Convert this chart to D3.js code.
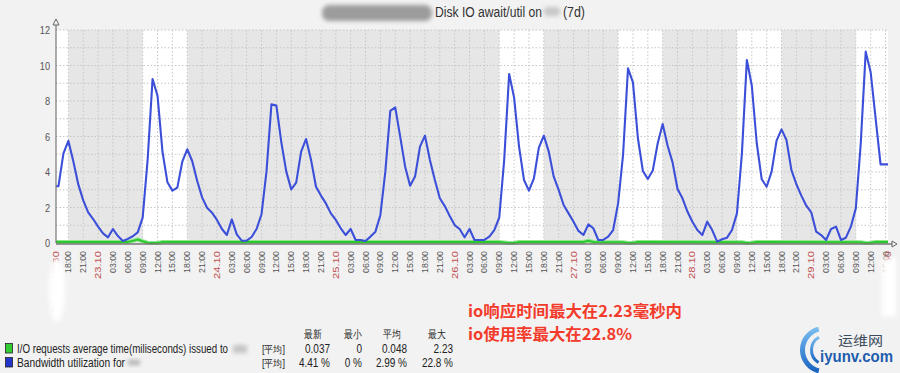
<!DOCTYPE html>
<html>
<head>
<meta charset="utf-8">
<script src="https://cdn.jsdelivr.net/npm/d3@7"></script>
<style>
  body { margin: 0; background: #f2f2f2; }
  svg { display: block; font-family: "Liberation Sans", Arial, sans-serif; }
</style>
</head>
<body>
<svg id="chart" width="900" height="373"></svg>
<script>
// bandwidth utilization, hourly averages (first value = 22.10 15:00)
const util22 = [3.2, 3.2, 5.05, 5.75, 4.6, 3.3, 2.4, 1.73, 1.35];
const util23 = [0.92, 0.54, 0.32, 0.79, 0.39, 0.11, 0.23, 0.38, 0.6, 1.43, 4.68, 9.24,
                8.3, 5.15, 3.42, 2.95, 3.12, 4.58, 5.28, 4.62, 3.51, 2.57, 1.99, 1.71];
const util24 = [1.3, 0.79, 0.45, 1.33, 0.49, 0.13, 0.13, 0.34, 0.79, 1.62, 4.02, 7.81,
                7.74, 5.67, 4.02, 3.02, 3.4, 5.15, 5.86, 4.68, 3.17, 2.67, 2.23, 1.67];
const util25 = [1.3, 0.83, 0.45, 0.79, 0.17, 0.17, 0.11, 0.36, 0.64, 1.58, 4.02, 7.44,
                7.64, 5.99, 4.3, 3.23, 3.74, 5.43, 6.05, 4.68, 3.55, 2.52, 2.08, 1.52];
const util26 = [1.01, 0.79, 0.32, 0.79, 0.17, 0.17, 0.17, 0.36, 0.73, 1.43, 4.68, 9.52,
                8.19, 5.43, 3.55, 2.95, 3.64, 5.37, 6.05, 5.15, 3.74, 2.99, 2.14, 1.67];
const util27 = [1.2, 0.68, 0.45, 1.05, 0.83, 0.17, 0.17, 0.36, 0.73, 2.23, 4.96, 9.84,
                9.05, 5.9, 4.06, 3.61, 4.08, 5.62, 6.7, 5.48, 4.54, 3.04, 2.52, 1.77];
const util28 = [1.2, 0.73, 0.45, 1.2, 0.73, 0.08, 0.21, 0.3, 0.73, 1.67, 5.05, 10.31,
                8.86, 5.62, 3.59, 3.17, 4.02, 5.77, 6.4, 5.8, 4.11, 3.31, 2.67, 2.1];
const util29 = [1.73, 0.64, 0.45, 0.17, 0.79, 0.92, 0.17, 0.3, 0.92, 1.95, 5.62, 10.78,
                9.62, 7.02, 4.43, 4.43, 4.43];

// I/O await, read at the points where the line changes
const awaitPoints = [
  ["2015-10-22 15:00", 0.06], ["2015-10-23 06:00", 0.06], ["2015-10-23 07:00", 0.12],
  ["2015-10-23 08:00", 0.2], ["2015-10-23 09:00", 0.1], ["2015-10-23 10:00", 0.02],
  ["2015-10-23 11:00", 0], ["2015-10-23 12:00", 0], ["2015-10-23 13:00", 0.05],
  ["2015-10-26 09:00", 0.06], ["2015-10-26 10:00", 0.03], ["2015-10-26 11:00", 0],
  ["2015-10-26 12:00", 0], ["2015-10-26 13:00", 0.06], ["2015-10-27 02:00", 0.06],
  ["2015-10-27 03:00", 0.12], ["2015-10-27 04:00", 0.06], ["2015-10-27 10:00", 0.04],
  ["2015-10-27 11:00", 0], ["2015-10-27 12:00", 0], ["2015-10-27 13:00", 0.06],
  ["2015-10-28 10:00", 0.04], ["2015-10-28 11:00", 0], ["2015-10-28 12:00", 0.01],
  ["2015-10-28 13:00", 0.06], ["2015-10-29 10:00", 0.04], ["2015-10-29 11:00", 0],
  ["2015-10-29 12:00", 0.02], ["2015-10-29 13:00", 0.06], ["2015-10-29 16:00", 0.06]
];

const workDays = ["2015-10-22", "2015-10-23", "2015-10-26", "2015-10-27", "2015-10-28", "2015-10-29"];
const yTicks = [0, 2, 4, 6, 8, 10, 12];

const legendHeads = ["最新", "最小", "平均", "最大"];
const awaitStats = ["0.037", "0", "0.048", "2.23"];
const utilStats = ["4.41 %", "0 %", "2.99 %", "22.8 %"];
const notes = ["io响应时间最大在2.23毫秒内", "io使用率最大在22.8%"];

const parse = d3.utcParse("%Y-%m-%d %H:%M");
const start = parse("2015-10-22 15:30");
const end = parse("2015-10-29 15:30");
const t0 = parse("2015-10-22 15:00");

const svg = d3.select("#chart");
const sx = 0.8; // the screenshot text is squeezed horizontally

const x = d3.scaleUtc().domain([start, end]).range([56, 888]);
const y = d3.scaleLinear().domain([0, 12]).range([243, 30]);

const utilData = [util22, util23, util24, util25, util26, util27, util28, util29]
  .flat()
  .map(function(v, i) { return { t: d3.utcHour.offset(t0, i), v: v }; });
const awaitData = awaitPoints.map(function(d) { return { t: parse(d[0]), v: d[1] }; });

const defs = svg.append("defs");
defs.append("filter").attr("id", "blur").attr("x", "-50%").attr("y", "-50%")
  .attr("width", "200%").attr("height", "200%")
  .append("feGaussianBlur").attr("stdDeviation", 2);
defs.append("clipPath").attr("id", "plot")
  .append("rect").attr("x", 56).attr("y", 20).attr("width", 832).attr("height", 226);
const grad = defs.append("linearGradient").attr("id", "logo")
  .attr("x1", 0).attr("y1", 0).attr("x2", 0).attr("y2", 1);
grad.append("stop").attr("offset", 0).attr("stop-color", "#7cc0f2");
grad.append("stop").attr("offset", 1).attr("stop-color", "#1560c0");

// title
svg.append("rect").attr("x", 322).attr("y", 5).attr("width", 110).attr("height", 16)
  .attr("rx", 7).attr("fill", "#9c9c9c").attr("filter", "url(#blur)");
svg.append("text").attr("x", 435).attr("y", 17).attr("font-size", 14)
  .attr("fill", "#333").attr("textLength", 107).attr("lengthAdjust", "spacingAndGlyphs")
  .text("Disk IO await/util on");
svg.append("rect").attr("x", 544).attr("y", 7).attr("width", 16).attr("height", 9)
  .attr("rx", 3).attr("fill", "#c8c8c8").attr("filter", "url(#blur)");
svg.append("text").attr("x", 563).attr("y", 17).attr("font-size", 14)
  .attr("fill", "#333").attr("textLength", 22).attr("lengthAdjust", "spacingAndGlyphs")
  .text("(7d)");

// background: non-working time grey, working hours white
svg.append("rect").attr("x", 56).attr("y", 30).attr("width", 832).attr("height", 213)
  .attr("fill", "#e6e6e6");
svg.selectAll(".work")
  .data(workDays)
  .enter().append("rect")
  .attr("class", "work")
  .attr("x", function(d) { return x(d3.max([start, parse(d + " 09:00")])); })
  .attr("width", function(d) {
    return x(d3.min([end, parse(d + " 18:00")])) - x(d3.max([start, parse(d + " 09:00")]));
  })
  .attr("y", 30)
  .attr("height", 213)
  .attr("fill", "#ffffff");

// grid
const ticks3h = d3.utcHour.every(3).range(start, end);
svg.selectAll(".vgrid")
  .data(ticks3h)
  .enter().append("line")
  .attr("class", "vgrid")
  .attr("x1", function(d) { return x(d); })
  .attr("x2", function(d) { return x(d); })
  .attr("y1", 30).attr("y2", 243)
  .attr("stroke", "#c6c6c6").attr("stroke-dasharray", "1.5,2");
svg.selectAll(".hgrid")
  .data(d3.range(1, 13))
  .enter().append("line")
  .attr("class", "hgrid")
  .attr("x1", 56).attr("x2", 888)
  .attr("y1", function(d) { return y(d); })
  .attr("y2", function(d) { return y(d); })
  .attr("stroke", "#c6c6c6").attr("stroke-dasharray", "1.5,2");

// series
const line = d3.line()
  .x(function(d) { return x(d.t); })
  .y(function(d) { return y(d.v); });
const plot = svg.append("g").attr("clip-path", "url(#plot)");
plot.append("path").datum(awaitData)
  .attr("d", line).attr("fill", "none")
  .attr("stroke", "#8ee88e").attr("stroke-width", 4);
plot.append("path").datum(awaitData)
  .attr("d", line).attr("fill", "none")
  .attr("stroke", "#2ec82e").attr("stroke-width", 2);
plot.append("path").datum(utilData)
  .attr("d", line).attr("fill", "none")
  .attr("stroke", "#3c4fd8").attr("stroke-width", 2.1)
  .attr("stroke-linejoin", "round");

// axes
svg.append("line").attr("x1", 56).attr("x2", 56).attr("y1", 243).attr("y2", 21)
  .attr("stroke", "#777").attr("stroke-width", 1.2);
svg.append("path").attr("d", "M53,25L56,19L59,25Z").attr("fill", "#f2f2f2").attr("stroke", "#666");
svg.append("line").attr("x1", 56).attr("x2", 894).attr("y1", 244).attr("y2", 244)
  .attr("stroke", "#777").attr("stroke-width", 1.5);
svg.append("path").attr("d", "M892,241L897,244L892,247Z").attr("fill", "#f2f2f2").attr("stroke", "#666");

svg.selectAll(".ylab")
  .data(yTicks)
  .enter().append("text")
  .attr("class", "ylab")
  .attr("transform", function(d) { return "translate(50," + (y(d) + 4) + ") scale(" + sx + ",1)"; })
  .attr("text-anchor", "end")
  .attr("font-size", 11.5)
  .attr("fill", "#555")
  .text(function(d) { return d; });

const fmtTime = d3.utcFormat("%H:%M");
const fmtDay = d3.utcFormat("%d.%m");
const fmtFull = d3.utcFormat("%d.%m %H:%M");
const midnight = function(d) { return d.getUTCHours() === 0; };

svg.selectAll(".xlab")
  .data(ticks3h)
  .enter().append("text")
  .attr("class", "xlab")
  .attr("transform", function(d) { return "translate(" + (x(d) + 3) + ",251) rotate(-90)"; })
  .attr("text-anchor", "end")
  .attr("font-size", 9)
  .attr("textLength", function(d) { return midnight(d) ? 28 : 22; })
  .attr("lengthAdjust", "spacingAndGlyphs")
  .attr("fill", function(d) { return midnight(d) ? "#c05050" : "#555"; })
  .text(function(d) { return midnight(d) ? fmtDay(d) : fmtTime(d); });

svg.selectAll(".xedge")
  .data([start, end])
  .enter().append("text")
  .attr("class", "xedge")
  .attr("transform", function(d) { return "translate(" + (x(d) + 3) + ",251) rotate(-90)"; })
  .attr("text-anchor", "end")
  .attr("font-size", 9)
  .attr("textLength", 62)
  .attr("lengthAdjust", "spacingAndGlyphs")
  .attr("fill", "#c05050")
  .text(function(d) { return fmtFull(d); });

// white patches over the edge labels
svg.append("ellipse").attr("cx", 57).attr("cy", 290).attr("rx", 8).attr("ry", 32)
  .attr("fill", "#fff").attr("filter", "url(#blur)");
svg.append("rect").attr("x", 882).attr("y", 258).attr("width", 14).attr("height", 58)
  .attr("fill", "#fff").attr("filter", "url(#blur)");

// legend
const legend = svg.append("g").attr("font-size", 12).attr("fill", "#222");
legend.append("rect").attr("x", 5.5).attr("y", 343.5).attr("width", 7).attr("height", 9.5)
  .attr("fill", "#33cc33").attr("stroke", "#222").attr("stroke-width", 0.8);
legend.append("rect").attr("x", 5.5).attr("y", 357.5).attr("width", 7).attr("height", 9.5)
  .attr("fill", "#2236cc").attr("stroke", "#222").attr("stroke-width", 0.8);
legend.append("text").attr("x", 17).attr("y", 352.5)
  .attr("textLength", 211).attr("lengthAdjust", "spacingAndGlyphs")
  .text("I/O requests average time(miliseconds) issued to");
legend.append("rect").attr("x", 233).attr("y", 345).attr("width", 14).attr("height", 8)
  .attr("fill", "#c4c4c4").attr("filter", "url(#blur)");
legend.append("text").attr("x", 17).attr("y", 366.5)
  .attr("textLength", 108).attr("lengthAdjust", "spacingAndGlyphs")
  .text("Bandwidth utilization for");
legend.append("rect").attr("x", 128).attr("y", 360).attr("width", 12).attr("height", 5)
  .attr("fill", "#b0b0b0").attr("filter", "url(#blur)");

// the two "[平均]" cells share one text element
const fnCell = legend.append("text").attr("font-size", 10);
[352.5, 366.5].forEach(function(yy) {
  fnCell.append("tspan").attr("x", 262).attr("y", yy)
    .attr("textLength", 23).attr("lengthAdjust", "spacingAndGlyphs")
    .text("[平均]");
});

const headX = [313, 353, 392, 437];
const colRight = [330, 362, 407, 453];
legend.selectAll(".head")
  .data(legendHeads)
  .enter().append("text")
  .attr("class", "head")
  .attr("transform", function(d, i) { return "translate(" + headX[i] + ",337.5) scale(" + sx + ",1)"; })
  .attr("text-anchor", "middle")
  .attr("font-size", 11)
  .text(function(d) { return d; });

[[awaitStats, 352.5], [utilStats, 366.5]].forEach(function(row) {
  legend.selectAll(null)
    .data(row[0])
    .enter().append("text")
    .attr("transform", function(d, i) { return "translate(" + colRight[i] + "," + row[1] + ") scale(" + sx + ",1)"; })
    .attr("text-anchor", "end")
    .attr("font-size", 12.5)
    .text(function(d) { return d; });
});

// red notes
svg.selectAll(".note")
  .data(notes)
  .enter().append("text")
  .attr("class", "note")
  .attr("x", 468)
  .attr("y", function(d, i) { return 317 + i * 23; })
  .attr("font-family", "Noto Sans CJK SC, sans-serif")
  .attr("font-weight", "bold")
  .attr("font-size", 16)
  .attr("fill", "#f23b2b")
  .attr("textLength", function(d, i) { return i === 0 ? 214 : 164; })
  .attr("lengthAdjust", "spacingAndGlyphs")
  .text(function(d) { return d; });

// watermark
const arc = d3.arc();
svg.append("path")
  .attr("transform", "translate(824,350)")
  .attr("d", arc({ innerRadius: 19, outerRadius: 24, startAngle: -2.9, endAngle: -0.25 }))
  .attr("fill", "url(#logo)");
svg.append("path")
  .attr("transform", "translate(826,350)")
  .attr("d", arc({ innerRadius: 13, outerRadius: 16, startAngle: -2.6, endAngle: -0.5 }))
  .attr("fill", "url(#logo)");
svg.append("text").attr("x", 838).attr("y", 345)
  .attr("font-family", "Noto Sans CJK SC, sans-serif").attr("font-size", 13)
  .attr("fill", "#3b4b5c").attr("textLength", 45).attr("lengthAdjust", "spacingAndGlyphs")
  .text("运维网");
svg.append("text").attr("x", 820).attr("y", 362)
  .attr("font-size", 16).attr("font-weight", "bold")
  .attr("fill", "#1d5cae").attr("textLength", 73).attr("lengthAdjust", "spacingAndGlyphs")
  .text("iyunv.com");
</script>
</body>
</html>
